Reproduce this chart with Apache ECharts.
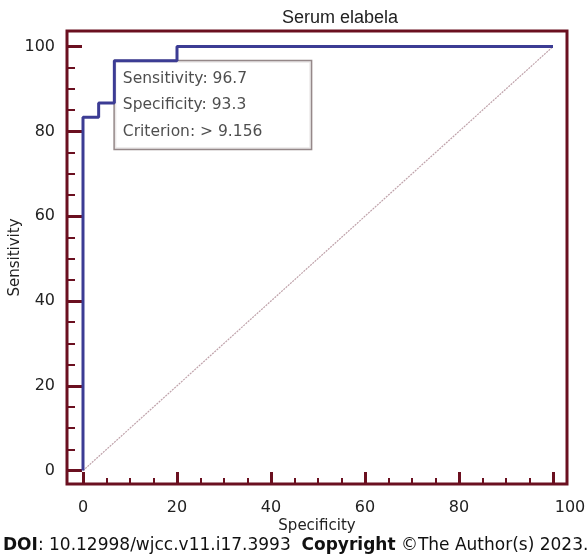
<!DOCTYPE html>
<html>
<head>
<meta charset="utf-8">
<script src="https://cdn.jsdelivr.net/npm/echarts@6/dist/echarts.min.js"></script>
<style>
html,body{margin:0;padding:0;background:#fff;}
#c{width:587px;height:557px;}
</style>
</head>
<body>
<div id="c"></div>
<script>
// ROC curve corner points (100 - Specificity, Sensitivity)
const fpr = [0, 0, 3.33, 3.33, 6.67, 6.67, 20, 20, 100];
const sensitivity = [0, 83.33, 83.33, 86.67, 86.67, 96.67, 96.67, 100, 100];
// reference diagonal
const diagX = [0, 100];
const diagY = [0, 100];
// criterion point and its annotation
const criterion = [6.67, 96.67];
const boxLines = ['Sensitivity: 96.7', 'Specificity: 93.3', 'Criterion: > 9.156'];
// tick labels / tick positions
const xTicks = [0, 20, 40, 60, 80, 100];
const yTicks = [0, 20, 40, 60, 80, 100];
const xMinorTicks = [5, 10, 15, 25, 30, 35, 45, 50, 55, 65, 70, 75, 85, 90, 95];
const yMinorTicks = [5, 10, 15, 25, 30, 35, 45, 50, 55, 65, 70, 75, 85, 90, 95];
// axis extents (frame reaches a little beyond 0..100)
const xRange = [-3.404, 102.98];
const yRange = [-3.16, 103.68];

const maroon = '#6b1020';
const blue = '#3c3c94';
const font = 'DejaVu Sans';

const chart = echarts.init(document.getElementById('c'), null, {renderer: 'canvas'});

const roc = fpr.map((x, i) => [x, sensitivity[i]]);
const diag = diagX.map((x, i) => [x, diagY[i]]);

function xAxisDef(ticks, len, width, withLabels) {
  return {
    type: 'value', min: xRange[0], max: xRange[1], position: 'bottom',
    axisLine: {show: false, onZero: false},
    axisTick: {show: true, inside: true, length: len, customValues: ticks, lineStyle: {color: maroon, width: width}},
    splitLine: {show: false},
    axisLabel: withLabels ? {
      show: true, customValues: ticks, margin: 16, color: '#222', fontFamily: font, fontSize: 16,
      formatter: v => v === 100 ? '{r|100}' : String(v),
      rich: {r: {padding: [0, 0, 0, 34], color: '#222', fontFamily: font, fontSize: 16}}
    } : {show: false},
    name: withLabels ? 'Specificity' : '', nameLocation: 'middle', nameGap: 35, nameMoveOverlap: false,
    nameTextStyle: {color: '#222', fontFamily: font, fontSize: 15}
  };
}
function yAxisDef(ticks, len, width, withLabels) {
  return {
    type: 'value', min: yRange[0], max: yRange[1], position: 'left',
    axisLine: {show: false, onZero: false},
    axisTick: {show: true, inside: true, length: len, customValues: ticks, lineStyle: {color: maroon, width: width}},
    splitLine: {show: false},
    axisLabel: withLabels ? {show: true, customValues: ticks, margin: 12, color: '#222', fontFamily: font, fontSize: 16} : {show: false},
    name: withLabels ? 'Sensitivity' : '', nameLocation: 'middle', nameGap: 44, nameMoveOverlap: false,
    nameTextStyle: {color: '#222', fontFamily: font, fontSize: 15}
  };
}

chart.setOption({
  animation: false,
  backgroundColor: '#fff',
  grid: {
    left: 67, top: 31, width: 500, height: 453, containLabel: false, outerBoundsMode: 'none',
    show: true, borderColor: maroon, borderWidth: 3, backgroundColor: 'transparent'
  },
  xAxis: [xAxisDef(xTicks, 12, 3, true), xAxisDef(xMinorTicks, 6, 2, false)],
  yAxis: [yAxisDef(yTicks, 15, 3, true), yAxisDef(yMinorTicks, 8, 2, false)],
  series: [
    {
      type: 'line', data: diag, symbol: 'none', z: 2,
      lineStyle: {color: '#bfa2aa', width: 1.2, type: [2, 1]}
    },
    {
      type: 'scatter', data: [criterion], symbolSize: 1, z: 1,
      itemStyle: {color: 'transparent'},
      label: {
        show: true, position: [1, 1], align: 'left', verticalAlign: 'top',
        formatter: () => boxLines.join('\n'),
        fontFamily: font, fontSize: 15.5, color: '#222', lineHeight: 26.5,
        backgroundColor: '#fff', borderColor: '#7a6a6c', borderWidth: 1.5,
        padding: [4, 8, 4, 8], width: 180
      }
    },
    {
      type: 'line', data: roc, symbol: 'none', z: 3,
      lineStyle: {color: blue, width: 3}
    }
  ],
  graphic: [
    {type: 'text', x: 340, y: 18, style: {text: 'Serum elabela', font: '18px "Liberation Sans"', fill: '#222', textAlign: 'center', textVerticalAlign: 'middle'}},
    {type: 'text', x: 3, y: 546, style: {
      text: '{b|DOI}: 10.12998/wjcc.v11.i17.3993  {b|Copyright} \u00A9The Author(s) 2023.',
      font: '17px "DejaVu Sans"', fill: '#111', textVerticalAlign: 'middle',
      rich: {b: {fontWeight: 'bold', fontFamily: 'DejaVu Sans', fontSize: 17, fill: '#111'}}
    }}
  ]
});
</script>
</body>
</html>
